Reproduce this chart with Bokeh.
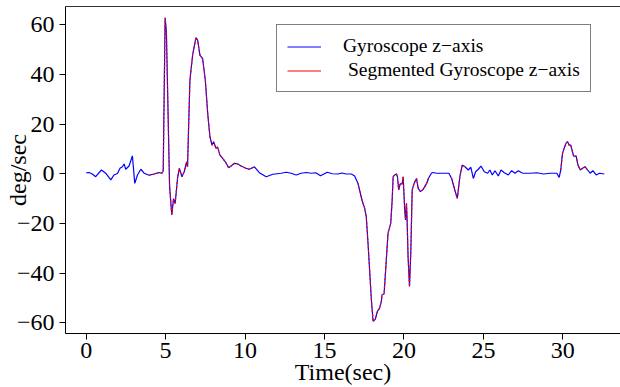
import numpy as np
from bokeh.plotting import figure
from bokeh.models import Legend, LegendItem, LinearAxis, FixedTicker, Range1d
from bokeh.embed import file_html
from bokeh.resources import INLINE

# ---------------- data ----------------
time_sec = [
    0.0, 0.18, 0.39, 0.6, 0.96, 1.23, 1.55, 1.75, 1.97, 2.13, 2.28, 2.39, 2.49,
    2.7, 2.91, 3.06, 3.23, 3.44, 3.65, 3.96, 4.28, 4.59, 4.76, 4.85, 4.97, 5.05,
    5.25, 5.39, 5.5, 5.6, 5.75, 5.86, 6.03, 6.17, 6.32, 6.38, 6.53, 6.7, 6.91,
    7.02, 7.16, 7.33, 7.5, 7.65, 7.79, 7.92, 8.02, 8.17, 8.27, 8.42, 8.59, 8.76,
    8.97, 9.12, 9.33, 9.54, 9.75, 10.06, 10.27, 10.59, 10.9, 11.33, 11.75,
    12.27, 12.6, 12.9, 13.22, 13.53, 13.85, 14.16, 14.45, 14.75, 15.17, 15.5,
    15.85, 16.1, 16.37, 16.69, 16.9, 17.11, 17.36, 17.53, 17.63, 17.74, 17.84,
    17.95, 18.06, 18.2, 18.33, 18.47, 18.58, 18.62, 18.75, 18.85, 19.0, 19.17,
    19.26, 19.32, 19.42, 19.53, 19.59, 19.67, 19.76, 19.89, 19.95, 20.05, 20.1,
    20.16, 20.2, 20.26, 20.35, 20.43, 20.52, 20.64, 20.79, 20.9, 21.04, 21.21,
    21.42, 21.57, 21.74, 21.84, 22.05, 22.37, 22.83, 23.0, 23.2, 23.36, 23.52,
    23.67, 23.84, 24.05, 24.21, 24.37, 24.51, 24.68, 24.85, 25.06, 25.27, 25.41,
    25.56, 25.73, 25.94, 26.11, 26.32, 26.57, 26.78, 26.99, 27.2, 27.41, 27.52,
    27.94, 28.36, 28.78, 29.2, 29.62, 29.77, 29.87, 29.98, 30.08, 30.21, 30.3,
    30.4, 30.5, 30.68, 30.84, 30.95, 31.1, 31.24, 31.41, 31.56, 31.72, 31.89,
    32.1, 32.31, 32.61,
]
gyro_z = [
    0.4, 0.5, -0.1, -1.2, 1.5, 0.2, -2.5, -0.5, 0.1, 2.2, 2.8, 3.9, 1.8,
    3.1, 7.2, -3.9, -0.5, 1.8, 0.2, -0.6, -0.1, 0.5, 0.2, 1.0, 62.8, 57.0,
    -5.0, -16.6, -10.0, -12.0, -2.0, 2.2, -1.2, 0.8, 4.8, 2.8, 37.6, 47.7, 54.8,
    53.7, 47.7, 46.3, 37.6, 24.3, 14.9, 11.5, 12.9, 10.2, 10.8, 7.5, 6.2, 4.8,
    2.4, 3.1, 4.2, 3.9, 3.1, 2.2, 1.8, 2.8, 0.4, -1.2, -0.2,
    0.2, 0.6, 0.2, -0.5, 0.2, 0.5, 0.2, 0.4, -0.8, 0.6, 0.0,
    -0.1, 0.3, -0.1, -0.1, -0.9, -3.9, -10.6, -13.9, -17.3, -28.0, -38.7,
    -50.7, -59.4, -58.5, -55.4, -54.1, -51.4, -48.7, -48.4, -38.7, -23.9, -19.9,
    -10.6, -1.2, -0.5, -0.1, -1.2, -6.5, -4.1, -4.1, -1.2, -14.6, -18.6,
    -11.9, -18.6, -33.3, -45.4, -32.0, -6.5, -3.9, -1.9, -5.9, -7.2, -6.3,
    -4.0, -1.5, 0.3, 0.5, 0.2, 0.2, 0.2, -1.9, -6.5, -9.9, -1.2,
    3.5, 2.8, 1.5, 2.6, -1.9, 0.8, 1.8, 3.1, 0.8, 0.2, 1.5,
    -0.5, 1.2, -0.9, 1.5, 0.4, -0.5, 1.2, 0.2, 1.2, 0.4, 0.2,
    0.2, 0.4, -0.1, 0.2, 0.2, -1.5, 1.5, 8.2, 10.2, 12.4, 12.9,
    11.5, 11.5, 7.1, 7.1, 3.5, 1.5, 2.2, 2.8, 1.5, 0.2, 1.2,
    -0.5, 0.2, -0.1,
]
segment_start = [3.95, 17.0, 22.9, 29.8]
segment_end = [10.8, 21.6, 23.85, 31.6]

x_ticks = [0, 5, 10, 15, 20, 25, 30]
x_tick_labels = ["0", "5", "10", "15", "20", "25", "30"]
y_ticks = [-60, -40, -20, 0, 20, 40, 60]
y_tick_labels = ["\u221260", "\u221240", "\u221220", "0", "20", "40", "60"]

series_names = ["Gyroscope z\u2212axis", " Segmented Gyroscope z\u2212axis"]
x_title = "Time(sec)"
y_title = "deg/sec"

# ---------------- build ----------------
t = np.array(time_sec, dtype=float)
g = np.array(gyro_z, dtype=float)
mask = np.zeros_like(t, dtype=bool)
for s, e in zip(segment_start, segment_end):
    mask |= (t >= s) & (t <= e)
seg = np.where(mask, g, np.nan)
blank = np.full_like(t, np.nan)

FONT = "Liberation Serif"
W, H = 620, 387
X0, X1 = -1.30, 33.63
Y0, Y1 = -64.3, 67.3

p = figure(width=W, height=H, output_backend="svg", toolbar_location=None,
           x_range=Range1d(X0, X1), y_range=Range1d(Y0, Y1),
           min_border_left=65, min_border_right=0, min_border_top=6,
           min_border_bottom=53, x_axis_label=x_title, y_axis_label=y_title)
p.grid.visible = False
p.outline_line_color = None
p.background_fill_color = "white"
p.border_fill_color = "white"

blue = p.line(t, g, line_color="#0000ff", line_width=1.2)
red = p.line(t, seg, line_color="#ff0000", line_width=1.2, line_dash="2 2")

# legend samples (solid lines, no visible data)
leg_b = p.line(t, blank, line_color="#0000ff", line_width=1.2)
leg_r = p.line(t, blank, line_color="#ff0000", line_width=1.2)

for ax in (p.xaxis[0], p.yaxis[0]):
    ax.axis_line_color = "black"
    ax.axis_line_width = 1
    ax.major_tick_line_color = "black"
    ax.major_tick_in = 0
    ax.major_tick_out = 6
    ax.minor_tick_line_color = None
    ax.major_label_text_font = FONT
    ax.major_label_text_font_size = "24px"
    ax.major_label_text_color = "black"
    ax.axis_label_text_font = FONT
    ax.axis_label_text_font_size = "24px"
    ax.axis_label_text_font_style = "normal"
    ax.axis_label_text_color = "black"

p.xaxis[0].ticker = FixedTicker(ticks=x_ticks)
p.xaxis[0].major_label_overrides = dict(zip(x_ticks, x_tick_labels))
p.xaxis[0].major_label_standoff = 3
p.xaxis[0].axis_label_standoff = -2
p.xaxis[0].axis_label_text_line_height = 0.6
p.yaxis[0].ticker = FixedTicker(ticks=y_ticks)
p.yaxis[0].major_label_overrides = dict(zip(y_ticks, y_tick_labels))
p.yaxis[0].major_label_standoff = 5
p.yaxis[0].axis_label_standoff = -17

top = LinearAxis(ticker=FixedTicker(ticks=[]), axis_line_color="#333333",
                 major_tick_line_color=None, minor_tick_line_color=None,
                 major_label_text_font_size="0px")
p.add_layout(top, "above")

legend = Legend(items=[LegendItem(label=series_names[0], renderers=[leg_b]),
                       LegendItem(label=series_names[1], renderers=[leg_r])],
                location=(211, 241), orientation="vertical")
legend.label_text_font = FONT
legend.label_text_font_size = "19.5px"
legend.label_text_color = "black"
legend.border_line_color = "black"
legend.border_line_width = 1
legend.background_fill_color = "white"
legend.background_fill_alpha = 1
legend.padding = 10
legend.spacing = 2
legend.glyph_width = 34
legend.glyph_height = 19
legend.label_height = 19
legend.label_standoff = 22
legend.margin = 0
p.add_layout(legend, "center")

open("out.html", "w").write(file_html(p, INLINE))
